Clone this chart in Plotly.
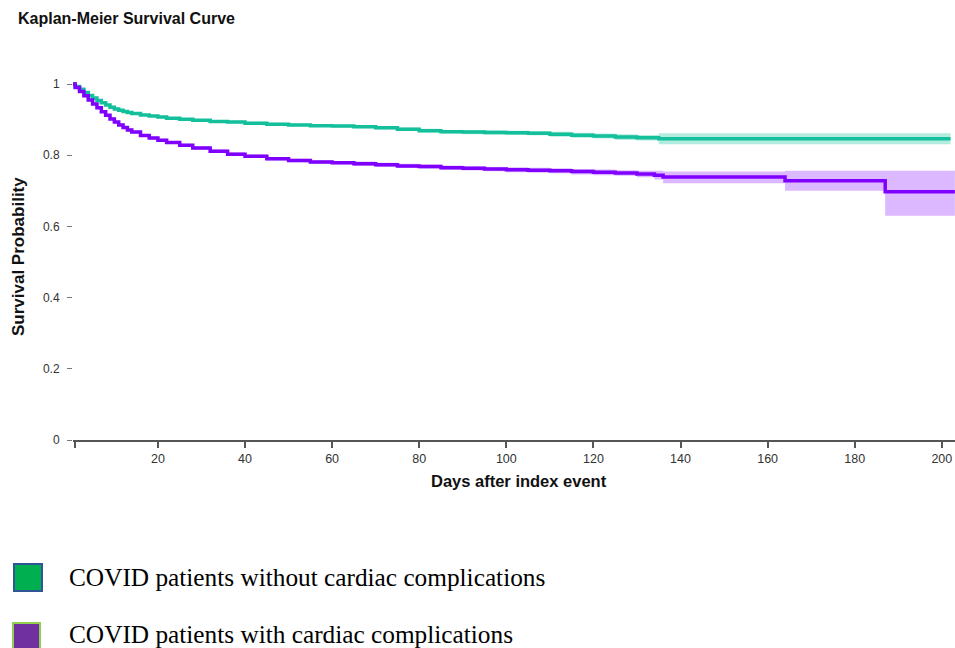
import plotly.graph_objects as go

# ---------------- data ----------------
green_days = [0, 1, 2, 3, 4, 5, 6, 7, 8, 9, 10, 11, 12, 13, 14, 16, 18, 20, 22, 25, 28, 32, 36, 40,
              45, 50, 55, 60, 65, 70, 75, 80, 85, 90, 95, 100, 105, 110, 115, 120, 125, 130, 135, 202]
green_surv = [1.0, 0.993, 0.985, 0.976, 0.968, 0.961, 0.954, 0.947, 0.941, 0.935, 0.930, 0.926, 0.923,
              0.920, 0.917, 0.913, 0.910, 0.907, 0.904, 0.901, 0.898, 0.895, 0.893, 0.890, 0.887, 0.885,
              0.883, 0.882, 0.880, 0.877, 0.873, 0.869, 0.866, 0.865, 0.864, 0.863, 0.862, 0.859, 0.856,
              0.854, 0.851, 0.849, 0.846, 0.846]
green_upper = [1.0, 0.996, 0.988, 0.979, 0.971, 0.964, 0.957, 0.950, 0.944, 0.938, 0.933, 0.929, 0.926,
               0.923, 0.920, 0.916, 0.913, 0.910, 0.907, 0.904, 0.901, 0.899, 0.897, 0.894, 0.891, 0.889,
               0.887, 0.886, 0.884, 0.882, 0.878, 0.874, 0.871, 0.871, 0.870, 0.869, 0.868, 0.866, 0.863,
               0.861, 0.859, 0.857, 0.862, 0.862]
green_lower = [1.0, 0.990, 0.982, 0.973, 0.965, 0.958, 0.951, 0.944, 0.938, 0.932, 0.927, 0.923, 0.920,
               0.917, 0.914, 0.910, 0.907, 0.904, 0.901, 0.898, 0.895, 0.891, 0.889, 0.886, 0.883, 0.881,
               0.879, 0.878, 0.876, 0.872, 0.868, 0.864, 0.861, 0.859, 0.858, 0.857, 0.856, 0.852, 0.849,
               0.847, 0.843, 0.841, 0.831, 0.831]

purple_days = [0, 1, 2, 3, 4, 5, 6, 7, 8, 9, 10, 11, 12, 13, 14, 16, 18, 20, 22, 25, 28, 32, 36, 40,
               45, 50, 55, 60, 65, 70, 75, 80, 85, 90, 95, 100, 105, 110, 115, 120, 125, 130, 134, 136,
               164, 187, 203]
purple_surv = [1.0, 0.990, 0.979, 0.967, 0.955, 0.944, 0.933, 0.922, 0.912, 0.902, 0.893, 0.885, 0.878,
               0.871, 0.865, 0.855, 0.848, 0.842, 0.836, 0.828, 0.820, 0.811, 0.803, 0.797, 0.790, 0.785,
               0.781, 0.779, 0.776, 0.773, 0.770, 0.768, 0.765, 0.763, 0.761, 0.759, 0.758, 0.756, 0.754,
               0.752, 0.750, 0.747, 0.744, 0.739, 0.728, 0.697, 0.697]
purple_upper = [1.0, 0.994, 0.983, 0.971, 0.959, 0.948, 0.937, 0.926, 0.916, 0.906, 0.897, 0.889, 0.882,
                0.875, 0.869, 0.859, 0.852, 0.846, 0.840, 0.832, 0.825, 0.816, 0.808, 0.802, 0.795, 0.790,
                0.786, 0.784, 0.782, 0.779, 0.776, 0.774, 0.771, 0.769, 0.767, 0.766, 0.765, 0.763, 0.761,
                0.760, 0.758, 0.756, 0.756, 0.754, 0.756, 0.756, 0.756]
purple_lower = [1.0, 0.986, 0.975, 0.963, 0.951, 0.940, 0.929, 0.918, 0.908, 0.898, 0.889, 0.881, 0.874,
                0.867, 0.861, 0.851, 0.844, 0.838, 0.832, 0.824, 0.815, 0.806, 0.798, 0.792, 0.785, 0.780,
                0.776, 0.774, 0.770, 0.767, 0.764, 0.762, 0.759, 0.757, 0.755, 0.752, 0.751, 0.749, 0.746,
                0.744, 0.742, 0.738, 0.732, 0.721, 0.700, 0.630, 0.630]

x_tick_vals = [1, 20, 40, 60, 80, 100, 120, 140, 160, 180, 200]
x_tick_text = ["", "20", "40", "60", "80", "100", "120", "140", "160", "180", "200"]
y_tick_vals = [0, 0.2, 0.4, 0.6, 0.8, 1]

legend_labels = ["COVID patients without cardiac complications",
                 "COVID patients with cardiac complications"]

# ---------------- styling ----------------
W, H = 955, 648
L, R, T, B = 73, 0, 82, 208
PW, PH = W - L - R, H - T - B

GREEN = "#14c09c"
GREEN_BAND = "rgba(20,192,156,0.32)"
PURPLE = "#7f00ff"
PURPLE_BAND = "rgba(127,0,255,0.28)"
SANS = "Liberation Sans, Arial, sans-serif"
SERIF = "Liberation Serif, Times New Roman, serif"


def px(xp):
    return (xp - L) / PW


def py(yp):
    return (H - B - yp) / PH


fig = go.Figure()


def add_series(days, surv, lo, hi, color, band):
    fig.add_trace(go.Scatter(x=days, y=lo, mode="lines", line=dict(width=0, shape="hv", color=band),
                             showlegend=False, hoverinfo="skip"))
    fig.add_trace(go.Scatter(x=days, y=hi, mode="lines", line=dict(width=0, shape="hv", color=band),
                             fill="tonexty", fillcolor=band, showlegend=False, hoverinfo="skip"))


add_series(green_days, green_surv, green_lower, green_upper, GREEN, GREEN_BAND)
add_series(purple_days, purple_surv, purple_lower, purple_upper, PURPLE, PURPLE_BAND)

fig.add_trace(go.Scatter(x=green_days, y=green_surv, mode="lines",
                         line=dict(color=GREEN, width=3.5, shape="hv"), showlegend=False))
fig.add_trace(go.Scatter(x=purple_days, y=purple_surv, mode="lines",
                         line=dict(color=PURPLE, width=3.5, shape="hv"), showlegend=False))

fig.update_layout(
    width=W, height=H,
    margin=dict(l=L, r=R, t=T, b=B, pad=0),
    paper_bgcolor="white", plot_bgcolor="white",
    font=dict(family=SANS, color="#333"),
    showlegend=False,
    title=dict(text="<b>Kaplan-Meier Survival Curve</b>", xref="container", yref="container",
               x=18 / W, xanchor="left", y=1 - 18 / H, yanchor="middle",
               font=dict(family=SANS, size=16, color="#111")),
    xaxis=dict(range=[0.5, 0.5 + PW / 4.355], showgrid=False, zeroline=False,
               showline=True, linecolor="#555", linewidth=1.5,
               ticks="outside", ticklen=6, tickwidth=1.5, tickcolor="#555",
               tickvals=x_tick_vals, ticktext=x_tick_text,
               tickfont=dict(size=12.5, color="#333")),
    yaxis=dict(range=[0, PH / 356], showgrid=False, zeroline=False, showline=False,
               ticks="outside", ticklen=5, tickwidth=1, tickcolor="#777",
               tickvals=y_tick_vals, ticklabelstandoff=5,
               tickfont=dict(size=12, color="#333")),
)

# axis titles
fig.add_annotation(text="<b>Days after index event</b>", xref="paper", yref="paper",
                   x=px(519), y=py(481), xanchor="center", yanchor="middle", showarrow=False,
                   font=dict(family=SANS, size=16.5, color="#111"))
fig.add_annotation(text="<b>Survival Probability</b>", xref="paper", yref="paper",
                   x=px(18), y=py(257), xanchor="center", yanchor="middle", textangle=-90,
                   showarrow=False, font=dict(family=SANS, size=17, color="#111"))

# custom legend
legend_boxes = [(14, 564, 42, 591, "#00b050", "#2f5597"),
                (13, 623, 40, 650, "#7030a0", "#92d050")]
legend_text_y = [577, 634]
for (x0, y0, x1, y1, fillc, linec), label, ty in zip(legend_boxes, legend_labels, legend_text_y):
    fig.add_shape(type="rect", xref="paper", yref="paper", x0=px(x0), x1=px(x1), y0=py(y1), y1=py(y0),
                  fillcolor=fillc, line=dict(color=linec, width=2), layer="above")
    fig.add_annotation(text=label, xref="paper", yref="paper", x=px(67), y=py(ty),
                       xanchor="left", yanchor="middle", showarrow=False,
                       font=dict(family=SERIF, size=25.3, color="#000"))

fig.write_html("out.html",
               config={"displayModeBar": False, "staticPlot": False},
               post_script="document.body.style.margin='0';document.body.style.padding='0';"
                           "document.body.style.overflow='hidden';")
